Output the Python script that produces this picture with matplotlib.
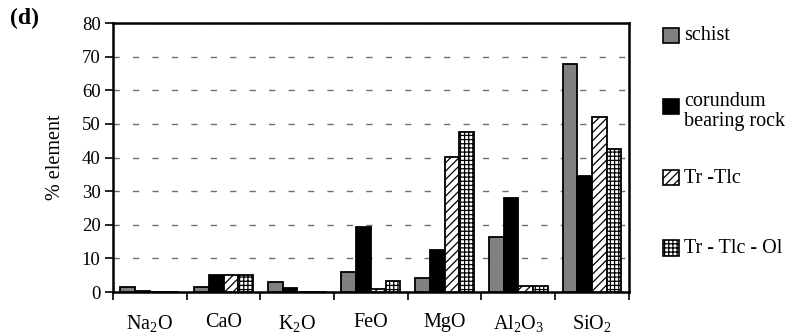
import numpy as np
import matplotlib
matplotlib.use('Agg')
import matplotlib.pyplot as plt
from matplotlib.patches import Rectangle

plt.rcParams['font.family'] = 'serif'
plt.rcParams['font.serif'] = ['Liberation Serif', 'DejaVu Serif']
plt.rcParams['mathtext.fontset'] = 'custom'
plt.rcParams['mathtext.rm'] = 'Liberation Serif'
plt.rcParams['mathtext.it'] = 'Liberation Serif'
plt.rcParams['hatch.linewidth'] = 0.9

# data
oxides = [r'Na$_2$O', 'CaO', r'K$_2$O', 'FeO', 'MgO', r'Al$_2$O$_3$', r'SiO$_2$']
schist = [1.6, 1.4, 3.1, 6.0, 4.1, 16.3, 67.9]
corundum = [0.4, 5.1, 1.1, 19.2, 12.5, 28.1, 34.6]
tr_tlc = [0.0, 5.1, 0.0, 1.0, 40.1, 1.9, 52.2]
tr_tlc_ol = [0.0, 5.1, 0.0, 3.3, 47.5, 1.9, 42.5]
series_names = ['schist', 'corundum\nbearing rock', 'Tr -Tlc', 'Tr - Tlc - Ol']

fig = plt.figure(figsize=(7.92, 3.34), dpi=100)
ax = fig.add_axes([0.1427, 0.1257, 0.6513, 0.8053])

x = np.arange(len(oxides))
w = 0.2
styles = [dict(color='#808080', hatch=None),
          dict(color='black', hatch=None),
          dict(color='white', hatch='////'),
          dict(color='white', hatch='++++')]
all_series = [schist, corundum, tr_tlc, tr_tlc_ol]
for i, (vals, st) in enumerate(zip(all_series, styles)):
    ax.bar(x + (i - 1.5) * w, vals, w, color=st['color'], hatch=st['hatch'],
           edgecolor='black', linewidth=1.3, zorder=3)

ax.set_xlim(-0.5, len(oxides) - 0.5)
ax.set_ylim(0, 80)
ax.set_yticks(np.arange(0, 81, 10))
ax.yaxis.grid(True, color='#707070', linestyle=(0, (4.5, 9.5)), linewidth=1.0, zorder=0)

# boundaries as major ticks, names on minor ticks
ax.set_xticks(np.arange(-0.5, len(oxides), 1.0))
ax.set_xticklabels([])
ax.set_xticks(x, minor=True)
ax.set_xticklabels(oxides, minor=True, fontsize=14.5)
ax.tick_params(axis='x', which='major', direction='out', length=6, width=1.2)
ax.tick_params(axis='x', which='minor', length=0, pad=15)
ax.tick_params(axis='y', direction='out', length=6, width=1.2, labelsize=13.5, pad=3)

for s in ax.spines.values():
    s.set_linewidth(1.8)

ax.set_ylabel('% element', fontsize=14.5, labelpad=12)
fig.text(0.012, 0.975, '(d)', fontsize=17, fontweight='bold', va='top')

# legend drawn by hand
ys = [0.893, 0.68, 0.467, 0.257]
for (st, name, yy) in zip(styles, series_names, ys):
    fig.add_artist(Rectangle((0.8375, yy - 0.022), 0.0195, 0.045, transform=fig.transFigure,
                             facecolor=st['color'], hatch=st['hatch'], edgecolor='black',
                             linewidth=1.2))
    if '\n' in name:
        fig.text(0.864, yy + 0.045, name, fontsize=14.5, va='top', linespacing=1.1)
    else:
        fig.text(0.864, yy, name, fontsize=14.5, va='center')

fig.savefig('out.png', dpi=100)
